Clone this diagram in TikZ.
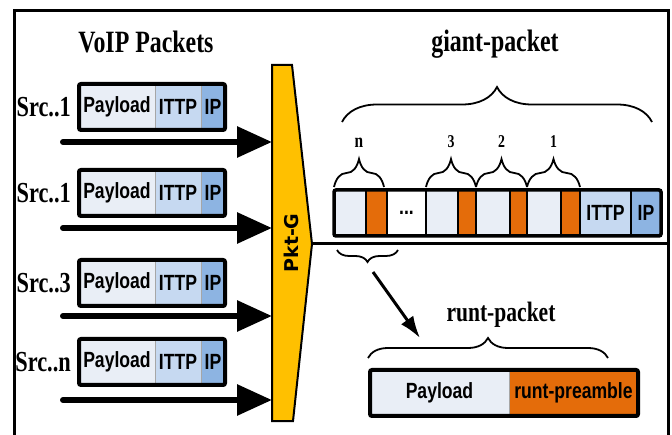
\documentclass[tikz,border=0pt]{standalone}
\usepackage{fontspec}
\usepackage{xcolor}
\usepackage{tikz}
\usetikzlibrary{arrows.meta,decorations,decorations.pathreplacing}
\newfontfamily\condserif{Liberation Serif}[FakeStretch=0.77]
\newfontfamily\condsans{Liberation Sans}[FakeStretch=0.8]
\newfontfamily\widesans{DejaVu Sans}
\newcommand\gapdots{...}
\definecolor{payloadfill}{HTML}{E9EEF6}
\definecolor{ittpfill}{HTML}{C6D9F1}
\definecolor{ipfill}{HTML}{8DB4E2}
\definecolor{preamblefill}{HTML}{E46C0A}
\definecolor{pktgfill}{HTML}{FFC000}
\tikzset{
  cell/.style={anchor=north west, inner sep=0pt, outer sep=0pt, minimum height=46pt,
    draw=gray!70, line width=0.6pt, font=\condsans\bfseries\fontsize{22}{22}\selectfont},
  gcell/.style={cell, draw=black, line width=2.5pt},
  pktframe/.style={line width=4pt, rounded corners=2pt},
  title/.style={anchor=base, inner sep=0pt, font=\condserif\bfseries\fontsize{31}{31}\selectfont},
  srclabel/.style={anchor=east, inner sep=0pt, font=\condserif\bfseries\fontsize{29}{29}\selectfont},
  numlabel/.style={anchor=base, inner sep=0pt, font=\condserif\bfseries\fontsize{18}{18}\selectfont},
  bracedraw/.style={decorate, decoration={brace, amplitude=#1}, line width=1.8pt},
  feed/.style={line width=6pt, line cap=round, -{Triangle[length=35pt,width=30pt]}},
}
\begin{document}
\begin{tikzpicture}[x=1pt,y=-1pt]
\useasboundingbox (0,0) rectangle (672,435);
\draw[line width=3pt] (14,11) rectangle (668,445);
% Pkt-G
\coordinate (pktL) at (272,0);
\coordinate (pkttip) at (312,244);
\draw[line width=2pt, fill=pktgfill] (272,65) -- (292,65) -- (pkttip) -- (293,421) -- (272,421) -- cycle;
\node[rotate=90, inner sep=0pt, font=\widesans\bfseries\fontsize{19}{19}\selectfont] (pktg) at (291,243) {Pkt-G};
% VoIP packets
\node[title] (voiplab) at (146,53) {VoIP Packets};
\foreach \i/\lab/\top/\ay in {1/Src..1/84/142, 2/Src..1/170/228, 3/Src..3/260/316, 4/Src..n/339/400}{
  \node[cell, fill=payloadfill, minimum width=76pt] (pay\i) at (79,\top) {Payload};
  \node[cell, fill=ittpfill, minimum width=46pt] (ittp\i) at (pay\i.north east) {ITTP};
  \node[cell, fill=ipfill, minimum width=24pt] (ip\i) at (ittp\i.north east) {IP};
  \draw[pktframe] (pay\i.north west) rectangle (ip\i.south east);
  \node[srclabel] (src\i) at ([xshift=-8pt]pay\i.west) {\lab};
  \coordinate (feed\i) at (63,\ay);
  \draw[feed] (feed\i) -- (feed\i -| pktL);
}
% giant-packet
\coordinate (busend) at (668,244);
\draw[line width=3pt] (pkttip) -- (busend);
\foreach \i/\a/\b/\c/\t in {1/334/366/payloadfill/{}, 2/366/387/preamblefill/{}, 3/387/426/white/\gapdots, 4/426/458/payloadfill/{},
  5/458/476/preamblefill/{}, 6/476/510/payloadfill/{}, 7/510/527/preamblefill/{}, 8/527/561/payloadfill/{},
  9/561/580/preamblefill/{}, 10/580/631/ittpfill/ITTP, 11/631/661/ipfill/IP}{
  \node[gcell, fill=\c, minimum width={\b-\a}] (g\i) at (\a,190) {\t};
}
\draw[line width=3.5pt, rounded corners=2pt] (g1.north west) rectangle (g11.south east);
\draw[bracedraw=28pt] ([yshift=3pt]g1.north west) -- ([yshift=3pt,xshift=-3pt]g2.north east)
  node[numlabel, midway, yshift=39pt, font=\condserif\bfseries\fontsize{20}{20}\selectfont] (lbn) {n};
\draw[bracedraw=28pt] ([yshift=3pt]g4.north west) -- ([yshift=3pt]g5.north east)
  node[numlabel, midway, yshift=39pt] (lb3) {3};
\draw[bracedraw=28pt] ([yshift=3pt]g6.north west) -- ([yshift=3pt]g7.north east)
  node[numlabel, midway, yshift=39pt] (lb2) {2};
\draw[bracedraw=28pt] ([yshift=3pt]g8.north west) -- ([yshift=3pt]g9.north east)
  node[numlabel, midway, yshift=39pt] (lb1) {1};
\draw[bracedraw=35pt] (342,122) -- (652,122);
\node[title] (giantlab) at (495,52) {giant-packet};
% runt-packet
\draw[bracedraw=12pt] (398,250) -- (337,250);
\coordinate (runtsrc) at (373,272);
\coordinate (runtdst) at (420,338);
\draw[line width=3pt, -{Latex[length=22pt,width=15pt]}] (runtsrc) -- (runtdst);
\node[title, font=\condserif\bfseries\fontsize{28}{28}\selectfont] (runtlab) at (501,322) {runt-packet};
\draw[bracedraw=20pt] (368,358) -- (608,358);
\node[cell, fill=payloadfill, minimum width=139pt] (rpay) at (370,370) {Payload};
\node[cell, fill=preamblefill, minimum width=129pt] (rpre) at (rpay.north east) {runt-preamble};
\draw[pktframe] (rpay.north west) rectangle (rpre.south east);
\end{tikzpicture}
\end{document}
